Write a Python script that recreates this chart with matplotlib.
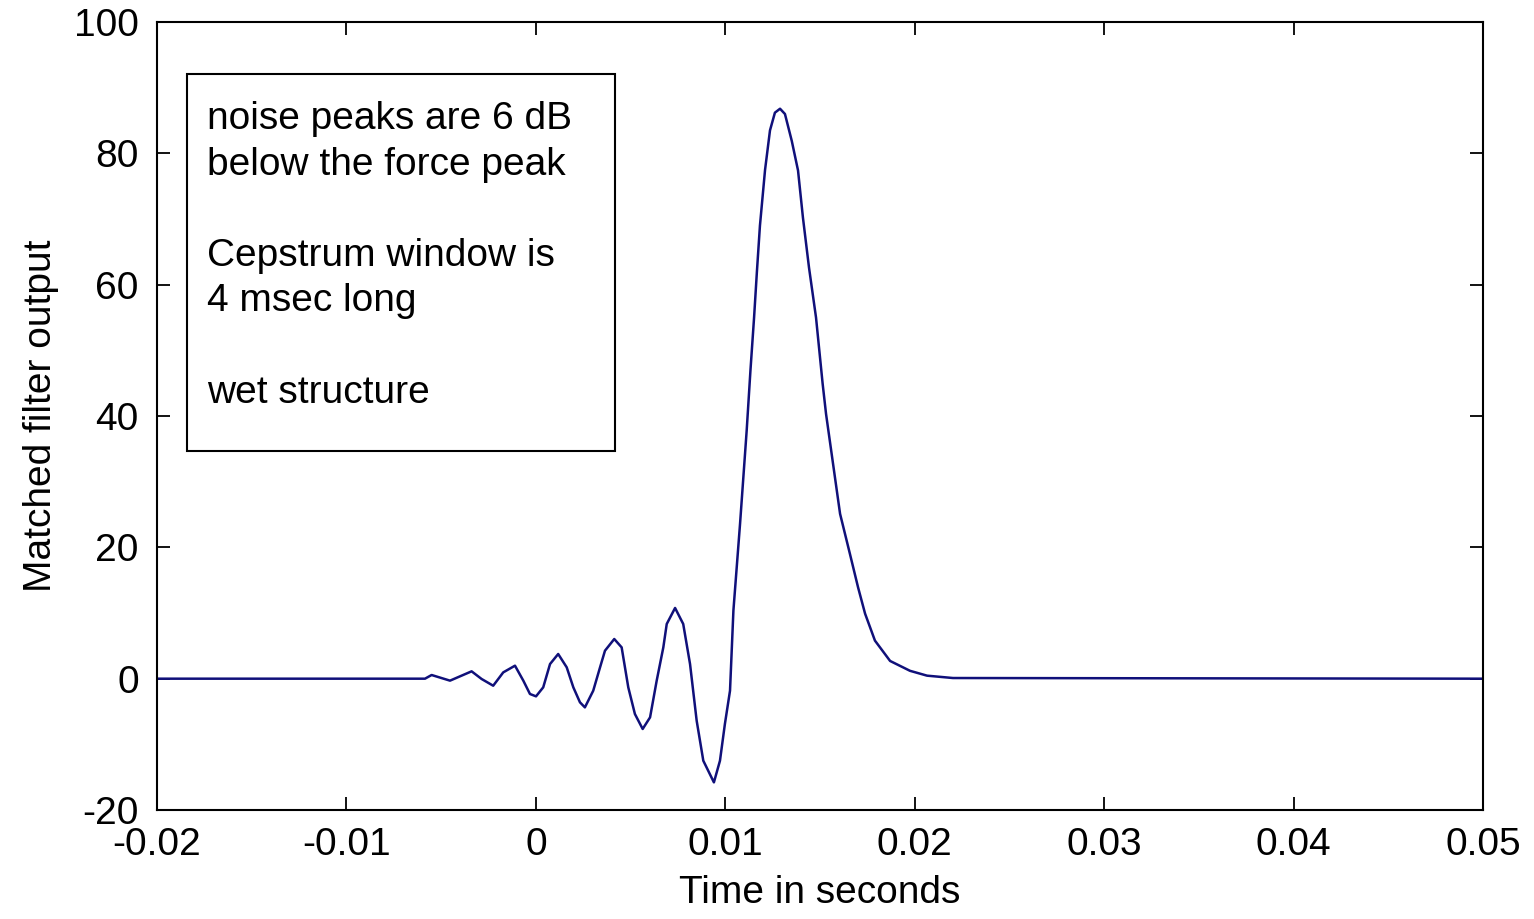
import matplotlib
matplotlib.use("Agg")
import matplotlib.pyplot as plt
from matplotlib.patches import Rectangle

# (time in s, output)
t = [-0.02, -0.00585, -0.00550, -0.00453, -0.00339, -0.00286, -0.00225, -0.00172,
     -0.00110, -0.00066, -0.00031, 0.00001, 0.00039, 0.00075, 0.00118, 0.00163,
     0.00198, 0.00233, 0.00259, 0.00303, 0.00339, 0.00365, 0.00414, 0.00453,
     0.00488, 0.00523, 0.00564, 0.00603, 0.00638, 0.00673, 0.00691, 0.00735,
     0.00778, 0.00814, 0.00849, 0.00884, 0.00940, 0.00972, 0.00998, 0.01025,
     0.01043, 0.01078, 0.01113, 0.01133, 0.01152, 0.01167, 0.01183, 0.01210,
     0.01236, 0.01262, 0.01289, 0.01315, 0.01351, 0.01384, 0.01410, 0.01442,
     0.01479, 0.01514, 0.01532, 0.01569, 0.01606, 0.01658, 0.01701, 0.01738,
     0.01790, 0.01870, 0.01975, 0.02065, 0.02202, 0.05]
y = [0, 0, 0.56, -0.30, 1.12, -0.05, -1.07, 0.96,
     1.98, -0.30, -2.33, -2.69, -1.32, 2.23, 3.76, 1.73,
     -1.32, -3.60, -4.37, -1.83, 1.73, 4.26, 6.04, 4.77,
     -1.32, -5.38, -7.66, -5.89, -0.30, 4.77, 8.33, 10.77,
     8.33, 2.23, -6.40, -12.49, -15.79, -12.49, -6.90, -1.83,
     10.4, 23.6, 37.8, 47.0, 55.0, 62.0, 69.0, 77.5,
     83.5, 86.2, 86.8, 86.0, 81.9, 77.4, 70.2, 62.6,
     55.0, 44.9, 40.3, 32.7, 25.1, 19.0, 13.9, 9.9,
     5.8, 2.7, 1.2, 0.46, 0.1, 0]

xticks = [-0.02, -0.01, 0, 0.01, 0.02, 0.03, 0.04, 0.05]
xticklabels = ["-0.02", "-0.01", "0", "0.01", "0.02", "0.03", "0.04", "0.05"]
yticks = [-20, 0, 20, 40, 60, 80, 100]
yticklabels = ["-20", "0", "20", "40", "60", "80", "100"]

note = "noise peaks are 6 dB\nbelow the force peak\n\nCepstrum window is\n4 msec long\n\nwet structure"

plt.rcParams['font.family'] = ['Liberation Sans', 'DejaVu Sans']

fig = plt.figure(figsize=(15.34, 9.19), dpi=100)
ax = fig.add_axes([0.1023, 0.1186, 0.8645, 0.8574])

ax.plot(t, y, color="#10107a", linewidth=1.8)

ax.set_xlim(-0.02, 0.05)
ax.set_ylim(-20, 100)
ax.set_xticks(xticks)
ax.set_xticklabels(xticklabels)
ax.set_yticks(yticks)
ax.set_yticklabels(yticklabels)
ax.tick_params(direction="in", length=9.5, width=1.3, labelsize=28,
               top=True, right=True)
ax.tick_params(axis="x", pad=12)
ax.tick_params(axis="y", pad=13)
for s in ax.spines.values():
    s.set_linewidth(1.5)

ax.set_xlabel("Time in seconds", fontsize=28, labelpad=9)
ax.set_ylabel("Matched filter output", fontsize=28, labelpad=11)

# text box
box = Rectangle((0.0226, 0.4556), 0.3228, 0.4784, transform=ax.transAxes,
                fill=False, edgecolor="black", linewidth=1.5)
ax.add_patch(box)
ax.text(0.0377, 0.90, note, transform=ax.transAxes, fontsize=28,
        va="top", ha="left", linespacing=1.345)

fig.savefig("out.png", dpi=100)
